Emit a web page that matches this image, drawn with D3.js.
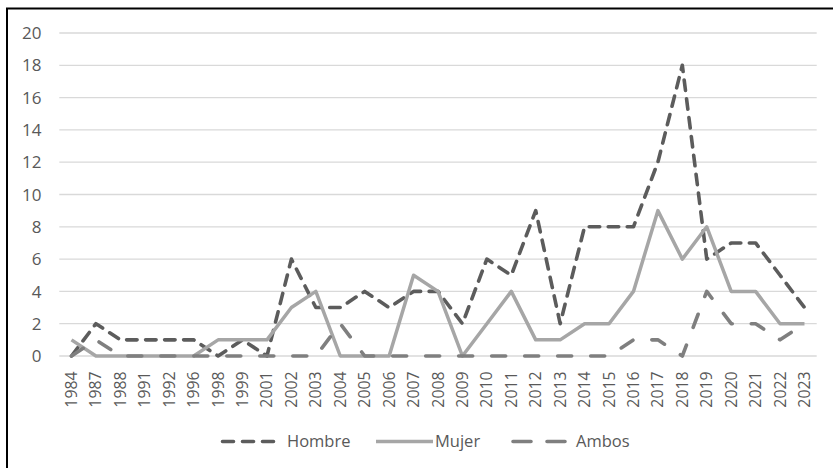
<!DOCTYPE html>
<html>
<head>
<meta charset="utf-8">
<script src="https://cdn.jsdelivr.net/npm/d3@7"></script>
<style>
	body { margin: 0; background: #fff; }
	svg { display: block; }
</style>
</head>
<body>
<svg id="chart"></svg>
<script>
// data
const years = ["1984", "1987", "1988", "1991", "1992", "1996", "1998", "1999", "2001", "2002",
	"2003", "2004", "2005", "2006", "2007", "2008", "2009", "2010", "2011", "2012",
	"2013", "2014", "2015", "2016", "2017", "2018", "2019", "2020", "2021", "2022", "2023"]
const hombre = [0, 2, 1, 1, 1, 1, 0, 1, 0, 6, 3, 3, 4, 3, 4, 4, 2, 6, 5, 9, 2, 8, 8, 8, 12, 18, 6, 7, 7, 5, 3]
const mujer = [1, 0, 0, 0, 0, 0, 1, 1, 1, 3, 4, 0, 0, 0, 5, 4, 0, 2, 4, 1, 1, 2, 2, 4, 9, 6, 8, 4, 4, 2, 2]
const ambos = [0, 1, 0, 0, 0, 0, 0, 0, 0, 0, 0, 2, 0, 0, 0, 0, 0, 0, 0, 0, 0, 0, 0, 1, 1, 0, 4, 2, 2, 1, 2]
const seriesNames = ["Hombre", "Mujer", "Ambos"]
const yTicks = [0, 2, 4, 6, 8, 10, 12, 14, 16, 18, 20]

const width = 833
const height = 468
const font = "'Open Sans', sans-serif"
const textColor = "#595959"

const styles = [
	{ color: "#5c5c5c", dash: "10.5,8.5", width: 3.6 },
	{ color: "#a6a6a6", dash: null, width: 3.5 },
	{ color: "#7f7f7f", dash: "14,19", width: 3.6 }
]

const svg = d3.select("#chart")
	.attr("width", width)
	.attr("height", height)

// outer frame (only top and left edges show in the picture)
svg.append("rect")
	.attr("x", 7).attr("y", 8.5)
	.attr("width", 900).attr("height", 500)
	.style("fill", "none")
	.style("stroke", "#000")
	.style("stroke-width", 2)

const x = d3.scaleBand()
	.domain(years)
	.range([59.3, 816.7])
	.padding(0)

const y = d3.scaleLinear()
	.domain([0, 20])
	.range([356, 33])

const cx = (d) => x(d) + x.bandwidth() / 2

// grid
const grid = svg.append("g")
grid.selectAll("line")
	.data(yTicks)
	.enter()
	.append("line")
	.attr("x1", 59.3).attr("x2", 816.7)
	.attr("y1", (d) => y(d)).attr("y2", (d) => y(d))
	.style("stroke", "#d9d9d9")
	.style("stroke-width", 1.3)

// y labels
svg.append("g").selectAll("text")
	.data(yTicks)
	.enter()
	.append("text")
	.attr("x", 41.5)
	.attr("y", (d) => y(d))
	.attr("dy", "0.36em")
	.attr("text-anchor", "end")
	.text((d) => d)
	.style("font-family", font)
	.style("font-size", "17px")
	.style("fill", textColor)

// x labels, rotated
svg.append("g").selectAll("text")
	.data(years)
	.enter()
	.append("text")
	.attr("transform", (d) => `translate(${cx(d) + 5.5},371.5) rotate(-90)`)
	.attr("text-anchor", "end")
	.text((d) => d)
	.style("font-family", font)
	.style("font-size", "15.8px")
	.style("fill", textColor)

// series lines
const line = d3.line()
	.x((d, i) => cx(years[i]))
	.y((d) => y(d))

const allSeries = [hombre, mujer, ambos]
allSeries.forEach((values, k) => {
	svg.append("path")
		.datum(values)
		.attr("d", line)
		.style("fill", "none")
		.style("stroke", styles[k].color)
		.style("stroke-width", styles[k].width)
		.style("stroke-dasharray", styles[k].dash)
		.style("stroke-linecap", styles[k].dash ? "round" : "butt")
		.style("stroke-linejoin", "round")
})

// legend
const legendItems = [
	{ x1: 222.5, x2: 275, tx: 287 },
	{ x1: 376, x2: 433, tx: 435 },
	{ x1: 513, x2: 565, tx: 576 }
]
const legend = svg.append("g")
seriesNames.forEach((name, k) => {
	const it = legendItems[k]
	legend.append("line")
		.attr("x1", it.x1).attr("x2", it.x2)
		.attr("y1", 441.5).attr("y2", 441.5)
		.style("stroke", styles[k].color)
		.style("stroke-width", styles[k].width)
		.style("stroke-dasharray", k == 0 ? "11,9" : k == 2 ? "18,16" : null)
		.style("stroke-linecap", styles[k].dash ? "round" : "butt")
	legend.append("text")
		.attr("x", it.tx)
		.attr("y", 441.5)
		.attr("dy", "0.36em")
		.text(name)
		.style("font-family", font)
		.style("font-size", "16.5px")
		.style("fill", textColor)
})
</script>
</body>
</html>
